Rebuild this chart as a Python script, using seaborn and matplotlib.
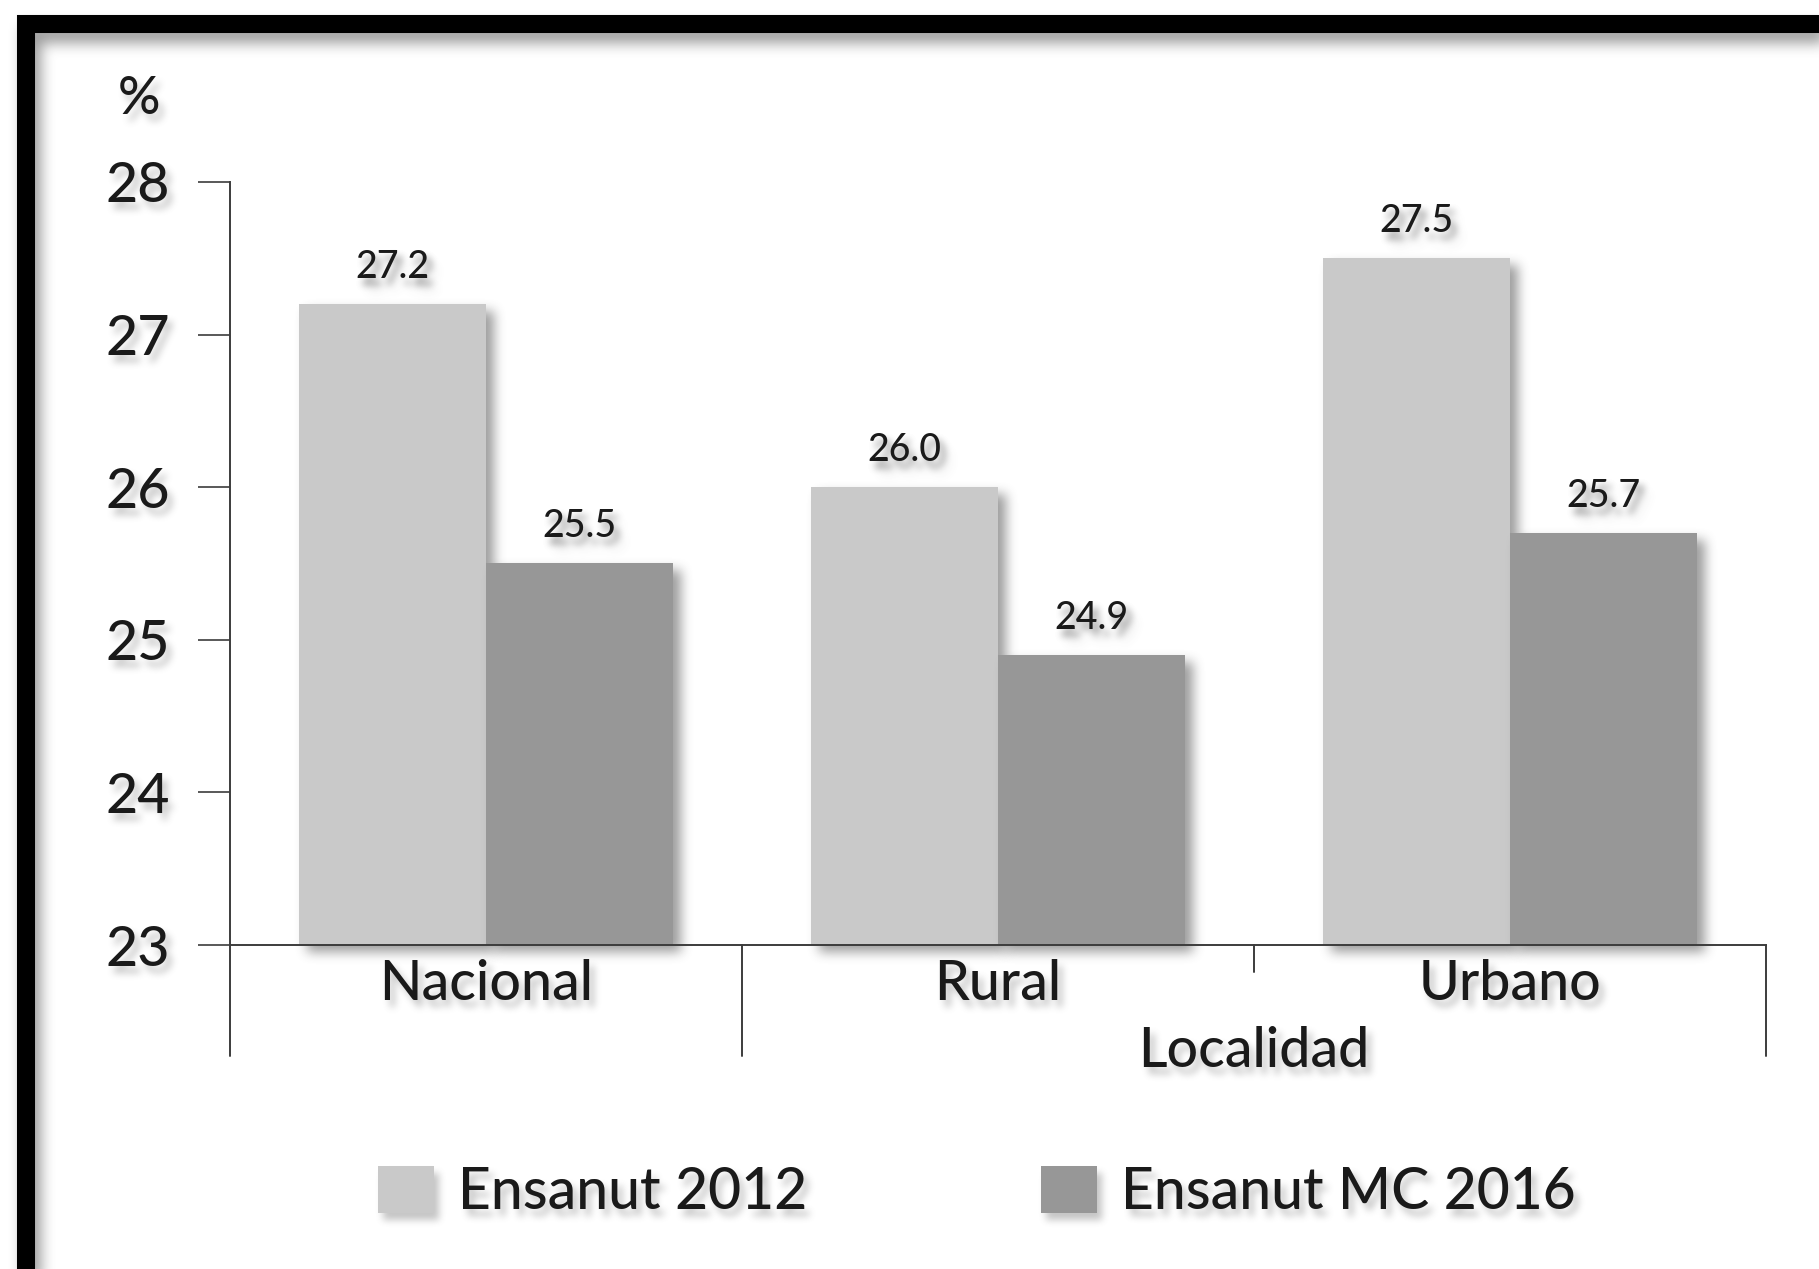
import numpy as np
import pandas as pd
import matplotlib
matplotlib.use("Agg")
import matplotlib.pyplot as plt
import matplotlib.transforms as mtransforms
from matplotlib.patches import Rectangle
from matplotlib.lines import Line2D
import seaborn as sns

# ---- data -------------------------------------------------------------
localidades = ["Nacional", "Rural", "Urbano"]
encuestas = ["Ensanut 2012", "Ensanut MC 2016"]
valores_2012 = [27.2, 26.0, 27.5]
valores_2016 = [25.5, 24.9, 25.7]
y_ticks = [23, 24, 25, 26, 27, 28]

colores = ["#c9c9c9", "#979797"]

df = pd.DataFrame({
    "Localidad": localidades * 2,
    "Encuesta": [encuestas[0]] * 3 + [encuestas[1]] * 3,
    "valor": valores_2012 + valores_2016,
})

# ---- soft drop shadow used on bars and text ----------------------------
def _box(a, r, axis):
    pad = [(0, 0)] * a.ndim
    pad[axis] = (r + 1, r)
    c = np.cumsum(np.pad(a, pad), axis=axis)
    n = a.shape[axis]
    hi = np.take(c, np.arange(2 * r + 1, 2 * r + 1 + n), axis=axis)
    lo = np.take(c, np.arange(0, n), axis=axis)
    return (hi - lo) / (2 * r + 1)


class SoftShadow:
    def __init__(self, radius=3, dx=6, dy=6, alpha=0.45, gray=0.25):
        self.r, self.dx, self.dy = radius, dx, dy
        self.alpha, self.gray = alpha, gray

    def __call__(self, im, dpi):
        pad = 3 * self.r + max(abs(self.dx), abs(self.dy)) + 2
        src = np.pad(im, ((pad, pad), (pad, pad), (0, 0)))
        a = src[..., 3].copy()
        for _ in range(3):
            a = _box(a, self.r, 0)
            a = _box(a, self.r, 1)
        a = np.roll(a, self.dx, axis=1)
        a = np.roll(a, self.dy, axis=0)
        sh = np.clip(a * self.alpha, 0, 1)
        sa = src[..., 3]
        out = np.zeros_like(src)
        out_a = sa + sh * (1 - sa)
        safe = np.where(out_a > 0, out_a, 1)
        for c in range(3):
            out[..., c] = (src[..., c] * sa + self.gray * sh * (1 - sa)) / safe
        out[..., 3] = out_a
        return out, -pad, -pad


bar_shadow = SoftShadow(radius=5, dx=8, dy=7, alpha=0.55, gray=0.3)
text_shadow = SoftShadow(radius=3, dx=5, dy=7, alpha=0.35, gray=0.35)
frame_shadow = SoftShadow(radius=6, dx=6, dy=10, alpha=0.6, gray=0.35)

# ---- figure -------------------------------------------------------------
sns.set_theme(style="white")
plt.rcParams["font.family"] = ["Lato", "DejaVu Sans"]
plt.rcParams["font.weight"] = 500
text_color = "#1a1a1a"
axis_color = "#3c3c3c"

fig = plt.figure(figsize=(18.19, 12.69), dpi=100)
fig.patch.set_facecolor("white")
ax = fig.add_axes([0.1264, 0.2553, 0.8444, 0.6013])
ax.set_facecolor("none")

sns.barplot(data=df, x="Localidad", y="valor", hue="Encuesta",
            order=localidades, hue_order=encuestas, palette=colores,
            width=0.73, saturation=1, linewidth=0, errorbar=None, ax=ax)

ax.set_xlim(-0.5, 2.5)
ax.set_ylim(23, 28)
ax.set_yticks(y_ticks)
ax.set_yticklabels([str(t) for t in y_ticks])
ax.set_xlabel("")
ax.set_ylabel("")

for side in ("top", "right"):
    ax.spines[side].set_visible(False)
for side in ("left", "bottom"):
    ax.spines[side].set_color(axis_color)
    ax.spines[side].set_linewidth(1.4)

ax.tick_params(axis="y", which="major", direction="out", length=23,
               width=1.2, color=axis_color, pad=20, labelsize=40,
               labelcolor=text_color, left=True)
ax.tick_params(axis="x", length=0, pad=39.6, labelsize=40,
               labelcolor=text_color)
for t in ax.get_xticklabels():
    t.set_va("baseline")

# group separators below the baseline
sep_tr = mtransforms.blended_transform_factory(ax.transData, ax.transAxes)
for xs, ybot in [(-0.5, -0.145), (0.5, -0.145), (1.5, -0.035), (2.5, -0.145)]:
    ln = Line2D([xs, xs], [0, ybot], transform=sep_tr, color=axis_color,
                lw=1.4, clip_on=False)
    ax.add_line(ln)

# value labels over each bar
for bars, vals in zip(ax.containers, [valores_2012, valores_2016]):
    for rect, v in zip(bars, vals):
        t = ax.annotate(f"{v:.1f}", (rect.get_x() + rect.get_width() / 2, v),
                        xytext=(0, 19), textcoords="offset points",
                        ha="center", va="baseline", fontsize=27,
                        color=text_color)
        t.set_agg_filter(text_shadow)

xl = ax.text(1.5, -0.160, "Localidad", transform=sep_tr, ha="center",
             va="baseline", fontsize=40, color=text_color)
xl.set_agg_filter(text_shadow)

pct = fig.text(139 / 1819, 1 - 99 / 1269, "%", ha="center", va="center",
               fontsize=38, color=text_color)
pct.set_agg_filter(text_shadow)

handles, labels = ax.get_legend_handles_labels()
leg = ax.legend(handles, labels, loc="center", bbox_to_anchor=(0.537, 0.060),
                bbox_transform=fig.transFigure, ncol=2, frameon=False,
                fontsize=41, handlelength=0.98, handleheight=0.88,
                handletextpad=0.42, columnspacing=4.1)
for txt in leg.get_texts():
    txt.set_color(text_color)
leg.set_agg_filter(text_shadow)

for p in ax.patches:
    p.set_agg_filter(bar_shadow)
for lbl in ax.get_yticklabels() + ax.get_xticklabels():
    lbl.set_agg_filter(text_shadow)

# heavy black frame around the whole chart
frame = Rectangle((26 / 1819, -2 / 1269), 1.2, (1269 - 24 + 2) / 1269,
                  transform=fig.transFigure, fill=False, edgecolor="black",
                  linewidth=13, clip_on=False, zorder=10)
frame.set_agg_filter(frame_shadow)
fig.patches.append(frame)

fig.savefig("out.png", dpi=100, facecolor="white")
